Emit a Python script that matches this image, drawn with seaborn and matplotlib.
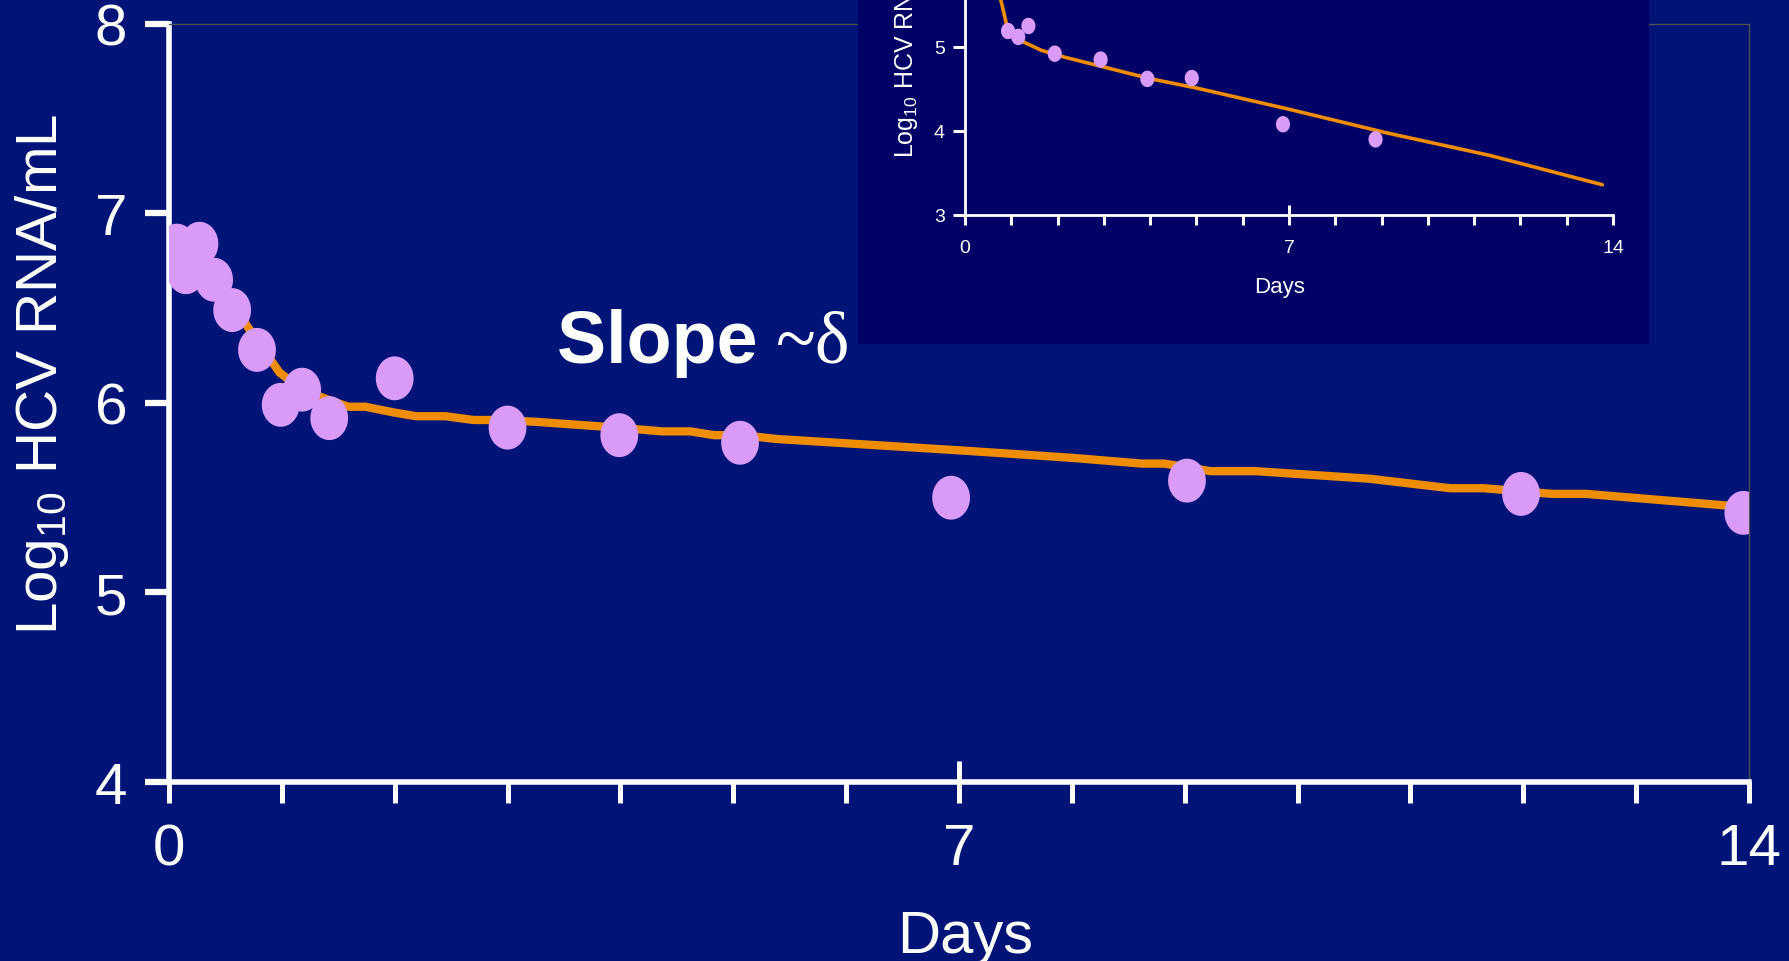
import numpy as np
import matplotlib
matplotlib.use('Agg')
import matplotlib.pyplot as plt
from matplotlib.patches import Rectangle
from matplotlib.ticker import FixedLocator, FuncFormatter
import seaborn as sns

# main panel: log10 HCV RNA over the first 14 days
days = [0.07, 0.15, 0.27, 0.40, 0.56, 0.78, 0.99, 1.18, 1.42, 2.00,
        3.00, 3.99, 5.06, 6.93, 9.02, 11.98, 13.95]
log_rna = [6.83, 6.69, 6.84, 6.65, 6.49, 6.28, 5.99, 6.07, 5.92, 6.13,
           5.87, 5.83, 5.79, 5.50, 5.59, 5.52, 5.42]

fit_days = [0.07, 0.40, 0.78, 0.98, 1.18, 1.44, 1.59, 1.74, 1.99, 2.19, 2.45,
            2.70, 2.95, 3.26, 3.97, 4.37, 4.62, 4.83, 5.08, 5.38, 6.19, 7.00,
            8.01, 8.62, 8.82, 9.23, 9.63, 10.64, 11.35, 11.65, 12.26, 12.56, 13.98]
fit_rna = [6.82, 6.66, 6.33, 6.16, 6.07, 6.01, 5.98, 5.98, 5.95, 5.93, 5.93,
           5.91, 5.91, 5.90, 5.87, 5.85, 5.85, 5.83, 5.83, 5.81, 5.78, 5.75,
           5.71, 5.68, 5.68, 5.64, 5.64, 5.60, 5.55, 5.55, 5.52, 5.52, 5.45]

# inset: second patient
inset_days = [0.93, 1.15, 1.37, 1.94, 2.93, 3.94, 4.90, 6.87, 8.87]
inset_rna = [5.19, 5.12, 5.25, 4.92, 4.85, 4.62, 4.63, 4.08, 3.90]
inset_fit_days = [0.45, 0.77, 0.93, 1.26, 1.65, 2.14, 4.02, 5.01, 6.99, 9.09, 11.33, 13.77]
inset_fit_rna = [6.30, 5.57, 5.19, 5.06, 4.96, 4.88, 4.62, 4.51, 4.26, 3.98, 3.71, 3.36]

x_ticks = list(range(0, 15))
x_labelled = [0, 7, 14]
y_ticks_main = [4, 5, 6, 7, 8]
y_ticks_inset = [3, 4, 5, 6, 7]

BG = '#001478'
INSET_BG = '#000066'
ORANGE = '#F08C00'
VIOLET = '#DA9BF8'
SANS = ['Liberation Sans', 'DejaVu Sans']
NARROW = ['Liberation Sans Narrow', 'Liberation Sans', 'DejaVu Sans']

sns.set_theme(style='white')
plt.rcParams['font.family'] = SANS
plt.rcParams['mathtext.fontset'] = 'custom'
plt.rcParams['mathtext.rm'] = 'Liberation Sans'
plt.rcParams['mathtext.default'] = 'regular'

theta = np.linspace(0, 2 * np.pi, 64)
ellipse = np.column_stack([0.86 * np.cos(theta), np.sin(theta)])

fig = plt.figure(figsize=(17.9, 9.62), dpi=100, facecolor=BG)

# %% main axes
ax = fig.add_axes([0.0944, 0.1861, 0.8827, 0.788], facecolor=BG, zorder=0)
sns.lineplot(x=fit_days, y=fit_rna, ax=ax, color=ORANGE, lw=6,
             estimator=None, sort=False, zorder=2)
sns.scatterplot(x=days, y=log_rna, ax=ax, marker=ellipse, s=1000,
                color=VIOLET, edgecolor='none', linewidth=0, zorder=3)
ax.set_xlim(0, 14)
ax.set_ylim(4, 8)
ax.set_xlabel('')
ax.set_ylabel('')

ax.xaxis.set_major_locator(FixedLocator([7]))
ax.xaxis.set_minor_locator(FixedLocator(x_ticks))
ax.xaxis.set_major_formatter(FuncFormatter(lambda v, p: f'{v:g}'))
ax.xaxis.set_minor_formatter(
    FuncFormatter(lambda v, p: f'{v:g}' if v in x_labelled else ''))
ax.set_yticks(y_ticks_main)
ax.tick_params(axis='x', which='minor', direction='out', length=15, width=3.6,
               color='white', pad=14, labelsize=42, labelcolor='white', bottom=True)
ax.tick_params(axis='x', which='major', direction='inout', length=30, width=3.6,
               color='white', pad=14, labelsize=42, labelcolor='white', bottom=True)
ax.tick_params(axis='y', which='major', direction='out', length=17, width=4.5,
               color='white', pad=13, labelsize=42, labelcolor='white', left=True)
plt.setp(ax.get_xticklabels(which='both'), fontfamily=NARROW)

for side in ['left', 'bottom']:
    ax.spines[side].set_color('white')
    ax.spines[side].set_linewidth(4)
for side in ['top', 'right']:
    ax.spines[side].set_color('#505050')
    ax.spines[side].set_linewidth(1)

fig.text(0.0235, 0.611, r'Log$_{10}$ HCV RNA/mL', rotation=90, ha='center',
         va='center', color='white', fontsize=42)
fig.text(0.539, 0.0094, 'Days', ha='center', va='baseline', color='white',
         fontsize=43, family=NARROW)
fig.text(0.311, 0.623, 'Slope ', ha='left', va='baseline', color='white',
         fontsize=53, fontweight='bold', zorder=3)
fig.text(0.4335, 0.623, '~δ', ha='left', va='baseline', color='white',
         fontsize=53, family=['Liberation Serif', 'DejaVu Serif'], zorder=3)

# %% inset
fig.add_artist(Rectangle((0.4793, 0.6414), 0.4419, 0.37, transform=fig.transFigure,
                         facecolor=INSET_BG, edgecolor='none', zorder=1))
axi = fig.add_axes([0.5391, 0.7755, 0.3620, 0.3493], zorder=2)
axi.set_facecolor('none')
sns.lineplot(x=inset_fit_days, y=inset_fit_rna, ax=axi, color=ORANGE, lw=2.6,
             estimator=None, sort=False, zorder=2)
sns.scatterplot(x=inset_days, y=inset_rna, ax=axi, marker=ellipse, s=140,
                color=VIOLET, edgecolor='none', linewidth=0, zorder=3)
axi.set_xlim(0, 14)
axi.set_ylim(3, 7)
axi.set_xlabel('')
axi.set_ylabel('')
axi.xaxis.set_major_locator(FixedLocator([7]))
axi.xaxis.set_minor_locator(FixedLocator(x_ticks))
axi.xaxis.set_major_formatter(FuncFormatter(lambda v, p: f'{v:g}'))
axi.xaxis.set_minor_formatter(
    FuncFormatter(lambda v, p: f'{v:g}' if v in x_labelled else ''))
axi.set_yticks(y_ticks_inset)
axi.tick_params(axis='x', which='minor', direction='out', length=7, width=2.2,
                color='white', pad=10, labelsize=14, labelcolor='white', bottom=True)
axi.tick_params(axis='x', which='major', direction='inout', length=14, width=2.2,
                color='white', pad=10, labelsize=14, labelcolor='white', bottom=True)
axi.tick_params(axis='y', which='major', direction='out', length=8.5, width=2.2,
                color='white', pad=6, labelsize=14, labelcolor='white', left=True)
plt.setp(axi.get_xticklabels(which='both'), fontfamily=NARROW)
plt.setp(axi.get_yticklabels(), fontfamily=NARROW)
for side in ['left', 'bottom']:
    axi.spines[side].set_color('white')
    axi.spines[side].set_linewidth(2)
for side in ['top', 'right']:
    axi.spines[side].set_visible(False)

fig.text(0.506, 0.836, r'Log$_{10}$ HCV RNA/mL', rotation=90, ha='center',
         va='bottom', color='white', fontsize=18, zorder=3)
fig.text(0.715, 0.695, 'Days', ha='center', va='baseline', color='white',
         fontsize=16, family=NARROW, zorder=3)

fig.savefig('out.png', dpi=100, facecolor=BG)
